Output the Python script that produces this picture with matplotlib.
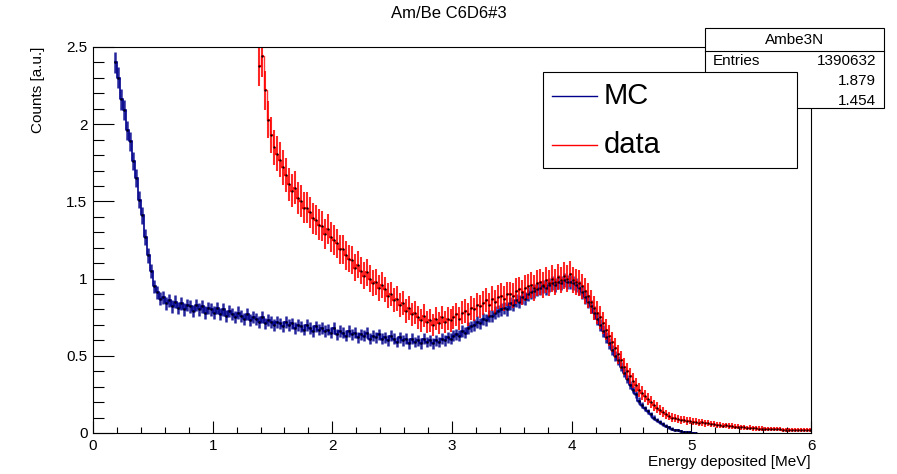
import numpy as np
import matplotlib.pyplot as plt
from matplotlib.patches import Rectangle
from matplotlib.lines import Line2D

plt.rcParams['font.family'] = ['Liberation Sans', 'DejaVu Sans']

# histogram binning (MeV)
bin_width = 0.025

# MC, bins 7..201
mc_first_bin = 7
mc_counts = [
    2.40, 2.30, 2.16, 2.09, 1.96, 1.89, 1.76, 1.65, 1.51, 1.41, 1.27, 1.15, 1.05, 0.95,
    0.91, 0.87, 0.88, 0.84, 0.86, 0.82, 0.85, 0.81, 0.84, 0.80, 0.83, 0.82, 0.79, 0.83,
    0.80, 0.82, 0.78, 0.81, 0.80, 0.78, 0.81, 0.77, 0.80, 0.76, 0.79, 0.77, 0.75, 0.78,
    0.76, 0.74, 0.77, 0.73, 0.75, 0.74, 0.72, 0.75, 0.71, 0.73, 0.72, 0.70, 0.72, 0.71,
    0.69, 0.72, 0.70, 0.71, 0.68, 0.70, 0.69, 0.67, 0.70, 0.68, 0.66, 0.69, 0.67, 0.68,
    0.66, 0.67, 0.65, 0.68, 0.64, 0.66, 0.65, 0.63, 0.66, 0.64, 0.65, 0.62, 0.64, 0.63,
    0.65, 0.61, 0.63, 0.62, 0.64, 0.61, 0.62, 0.60, 0.63, 0.61, 0.59, 0.62, 0.60, 0.61,
    0.58, 0.61, 0.59, 0.60, 0.58, 0.61, 0.59, 0.60, 0.58, 0.60, 0.59, 0.61, 0.60, 0.62,
    0.61, 0.63, 0.64, 0.63, 0.66, 0.65, 0.68, 0.69, 0.70, 0.72, 0.71, 0.74, 0.73, 0.76,
    0.76, 0.78, 0.79, 0.80, 0.81, 0.80, 0.84, 0.83, 0.86, 0.85, 0.88, 0.87, 0.90, 0.91,
    0.92, 0.93, 0.94, 0.95, 0.94, 0.96, 0.97, 0.96, 0.98, 0.97, 0.99, 0.98, 0.98, 0.97,
    0.96, 0.94, 0.91, 0.88, 0.85, 0.82, 0.78, 0.74, 0.70, 0.66, 0.62, 0.58, 0.54, 0.50,
    0.47, 0.43, 0.39, 0.35, 0.31, 0.28, 0.25, 0.21, 0.18, 0.16, 0.14, 0.12, 0.10, 0.085,
    0.07, 0.058, 0.046, 0.037, 0.029, 0.022, 0.017, 0.012, 0.009, 0.006, 0.004, 0.002, 0.001,
]

# data, bins 55..239
data_first_bin = 55
data_counts = [
    2.38, 2.44, 2.22, 2.03, 1.93, 1.85, 1.81, 1.77, 1.72, 1.67, 1.61, 1.57, 1.59, 1.52,
    1.50, 1.46, 1.46, 1.43, 1.39, 1.38, 1.35, 1.34, 1.29, 1.32, 1.27, 1.25, 1.23, 1.19,
    1.19, 1.15, 1.13, 1.12, 1.07, 1.09, 1.05, 1.02, 1.04, 1.00, 0.97, 0.98, 0.94, 0.96,
    0.93, 0.89, 0.90, 0.86, 0.87, 0.83, 0.84, 0.79, 0.81, 0.77, 0.78, 0.75, 0.73, 0.76,
    0.72, 0.73, 0.70, 0.74, 0.71, 0.75, 0.72, 0.74, 0.73, 0.75, 0.77, 0.74, 0.78, 0.79,
    0.77, 0.81, 0.80, 0.83, 0.82, 0.84, 0.86, 0.83, 0.87, 0.85, 0.88, 0.89, 0.87, 0.90,
    0.90, 0.89, 0.92, 0.93, 0.91, 0.94, 0.95, 0.96, 0.94, 0.97, 0.98, 0.96, 0.99, 0.97,
    1.00, 0.98, 1.01, 0.99, 1.02, 1.00, 1.03, 0.99, 0.98, 0.97, 0.95, 0.92, 0.89, 0.85,
    0.81, 0.78, 0.75, 0.71, 0.67, 0.63, 0.59, 0.55, 0.51, 0.47, 0.43, 0.40, 0.37, 0.34,
    0.31, 0.28, 0.26, 0.24, 0.22, 0.20, 0.18, 0.165, 0.15, 0.135, 0.12, 0.11, 0.10, 0.095,
    0.09, 0.083, 0.087, 0.078, 0.08, 0.072, 0.074, 0.066, 0.069, 0.062, 0.064, 0.057, 0.059, 0.052,
    0.053, 0.048, 0.049, 0.044, 0.045, 0.040, 0.041, 0.036, 0.038, 0.033, 0.034, 0.030, 0.031, 0.028,
    0.029, 0.026, 0.027, 0.024, 0.025, 0.023, 0.024, 0.021, 0.022, 0.021, 0.020, 0.021, 0.019, 0.020,
    0.018, 0.019, 0.018,
]

# relative statistical error scale (sqrt of content)
mc_err_scale = 0.045
data_err_scale = 0.085

stats_name = "Ambe3N"
stats_labels = ["Entries", "Mean", "Std Dev"]
stats_values = ["1390632", "1.879", "1.454"]

mc_y = np.array(mc_counts)
mc_x = (np.arange(len(mc_y)) + mc_first_bin + 0.5) * bin_width
data_y = np.array(data_counts)
data_x = (np.arange(len(data_y)) + data_first_bin + 0.5) * bin_width

W, H = 897, 474
fig = plt.figure(figsize=(W / 100, H / 100), dpi=100)
ax = fig.add_axes([93 / W, 1 - 433 / H, (811 - 93) / W, (433 - 47) / H])

mc_col = '#00008B'
data_col = '#FF0000'

# thin step line joins neighbouring bins (the original histogram is much finer)
ax.step(mc_x, mc_y, where='mid', color=mc_col, lw=1.2)
ax.errorbar(mc_x, mc_y, yerr=mc_err_scale * np.sqrt(mc_y), xerr=bin_width / 2,
            fmt='none', ecolor=mc_col, elinewidth=1.8, alpha=0.85)
ax.step(data_x, data_y, where='mid', color=data_col, lw=1.0, alpha=0.8)
ax.errorbar(data_x, data_y, yerr=data_err_scale * np.sqrt(data_y), xerr=bin_width / 2,
            fmt='none', ecolor=data_col, elinewidth=1.5, alpha=0.85)
ax.plot(mc_x, mc_y, ls='none', marker='.', ms=1.2, color='black')
ax.plot(data_x, data_y, ls='none', marker='.', ms=1.2, color='black')

ax.set_xlim(0, 6)
ax.set_ylim(0, 2.5)
ax.set_xticks(np.arange(0, 7, 1))
ax.set_xticks(np.arange(0, 6.01, 0.2), minor=True)
ax.set_yticks(np.arange(0, 2.6, 0.5))
ax.set_yticks(np.arange(0, 2.51, 0.1), minor=True)
ax.set_xticklabels(['0', '1', '2', '3', '4', '5', '6'])
ax.set_yticklabels(['0', '0.5', '1', '1.5', '2', '2.5'])
ax.tick_params(axis='x', which='major', direction='in', length=8.5, width=0.8, labelsize=11, pad=4)
ax.tick_params(axis='x', which='minor', direction='in', length=4.3, width=0.8)
ax.tick_params(axis='y', which='major', direction='in', length=15, width=0.8, labelsize=11, pad=4)
ax.tick_params(axis='y', which='minor', direction='in', length=7.7, width=0.8)
for s in ax.spines.values():
    s.set_linewidth(0.8)

fig.text(449 / W, 1 - 13 / H, "Am/Be C6D6#3", ha='center', va='center', fontsize=12)
fig.text(811 / W, 1 - 462 / H, "Energy deposited [MeV]", ha='right', va='center', fontsize=11)
fig.text(38 / W, 1 - 47 / H, "Counts [a.u.]", ha='center', va='top', rotation=90, fontsize=11)

def fx(x):
    return x / W

def fy(y):
    return 1 - y / H

# stats box
fig.add_artist(Rectangle((fx(705), fy(108)), fx(884) - fx(705), fy(28) - fy(108),
                         transform=fig.transFigure, facecolor='white', edgecolor='black', lw=0.8))
fig.add_artist(Line2D([fx(705), fx(884)], [fy(51), fy(51)], transform=fig.transFigure, color='black', lw=0.8))
fig.text(fx(795), fy(40), stats_name, ha='center', va='center', fontsize=11)
for i, (lab, val) in enumerate(zip(stats_labels, stats_values)):
    yy = fy(61 + i * 20)
    fig.text(fx(713), yy, lab, ha='left', va='center', fontsize=11)
    fig.text(fx(876), yy, val, ha='right', va='center', fontsize=11)

# legend box
fig.add_artist(Rectangle((fx(543), fy(168)), fx(797) - fx(543), fy(72) - fy(168),
                         transform=fig.transFigure, facecolor='white', edgecolor='black', lw=0.8, zorder=5))
for yy, col, lab in [(96, mc_col, "MC"), (145, data_col, "data")]:
    fig.add_artist(Line2D([fx(552), fx(597)], [fy(yy), fy(yy)], transform=fig.transFigure,
                          color=col, lw=1, zorder=6))
    fig.text(fx(604), fy(yy), lab, ha='left', va='center', fontsize=21, zorder=6)

fig.savefig('out.png', dpi=100)
